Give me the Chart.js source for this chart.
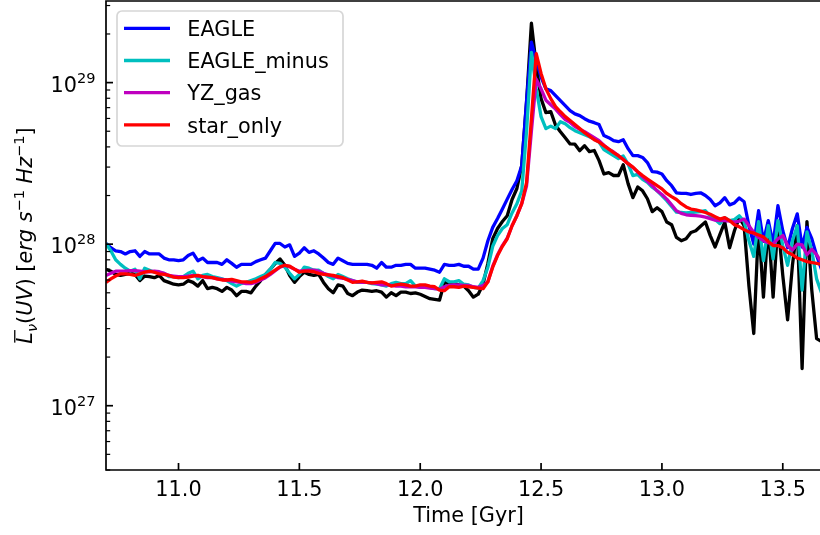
<!DOCTYPE html>
<html>
<head>
<meta charset="utf-8">
<script src="https://cdn.jsdelivr.net/npm/chart.js@4.4.0/dist/chart.umd.min.js"></script>
<style>
html, body { margin: 0; padding: 0; background: #fff; }
#c { display: block; }
</style>
</head>
<body>
<canvas id="c" width="820" height="535"></canvas>
<script>
// values in units of 1e27 erg s^-1 Hz^-1
const UNIT = 1e27;

const times = [
  10.70,10.72,10.74,10.76,10.78,10.80,10.82,10.84,10.86,10.88,
  10.90,10.92,10.94,10.96,10.98,11.00,11.02,11.04,11.06,11.08,
  11.10,11.12,11.14,11.16,11.18,11.20,11.22,11.24,11.26,11.28,
  11.30,11.32,11.34,11.36,11.38,11.40,11.42,11.44,11.46,11.48,
  11.50,11.52,11.54,11.56,11.58,11.60,11.62,11.64,11.66,11.68,
  11.70,11.72,11.74,11.76,11.78,11.80,11.82,11.84,11.86,11.88,
  11.90,11.92,11.94,11.96,11.98,12.00,12.02,12.04,12.06,12.08,
  12.10,12.12,12.14,12.16,12.18,12.20,12.22,12.24,12.26,12.28,
  12.30,12.32,12.34,12.36,12.38,12.40,12.42,12.44,12.46,12.48,
  12.50,12.52,12.54,12.56,12.58,12.60,12.62,12.64,12.66,12.68,
  12.70,12.72,12.74,12.76,12.78,12.80,12.82,12.84,12.86,12.88,
  12.90,12.92,12.94,12.96,12.98,13.00,13.02,13.04,13.06,13.08,
  13.10,13.12,13.14,13.16,13.18,13.20,13.22,13.24,13.26,13.28,
  13.30,13.32,13.34,13.36,13.38,13.40,13.42,13.44,13.46,13.48,
  13.50,13.52,13.54,13.56,13.58,13.60,13.62,13.64,13.66
];

// black curve (no legend entry)
const total = [
  7.0,6.8,6.5,6.4,6.5,6.6,6.5,5.95,6.35,6.3,
  6.2,6.4,5.95,5.8,5.65,5.6,5.65,5.95,5.8,5.5,
  5.95,5.3,5.4,5.3,5.1,5.4,5.2,4.8,5.1,5.1,
  5.0,5.5,5.95,6.5,7.0,7.6,8.1,7.4,6.4,5.8,
  6.3,6.7,6.5,6.4,6.5,5.8,5.3,5.0,5.6,5.5,
  4.95,4.8,5.05,5.2,5.15,5.1,5.15,5.05,4.7,5.0,
  4.8,5.05,5.05,4.95,5.0,4.9,4.75,4.6,4.55,4.5,
  5.8,5.7,5.7,5.6,5.5,5.15,4.7,4.9,5.65,7.6,
  10.8,12.5,13.8,15,18.9,22.1,30.6,76,233,127,
  79.6,65.2,66.2,54.5,49.7,45.6,41.7,41.6,37.9,40.7,
  37.4,38,32.9,27.2,27.7,26.6,26.6,31,23.7,19.4,
  22.6,21.4,19.1,15.9,16.8,15.9,13.7,13.2,11,10.5,
  10.8,11.8,12.1,12.9,13.7,11.3,9.6,11.5,13.7,9.5,
  12.1,14.6,13,5.5,2.8,13.3,4.7,13.6,4.7,13.6,
  6.4,3.4,7.4,13,1.7,13.8,5.2,2.6,2.5
];

const eagle = [
  10.1,9.5,9.1,9.0,8.7,9.0,9.1,8.4,9.0,8.7,
  8.7,8.7,8.2,8.0,8.0,7.9,8.0,8.5,8.8,7.9,
  8.2,7.7,7.7,7.7,7.5,8.0,7.6,7.2,7.5,7.5,
  7.5,7.8,8.0,8.2,9.1,10.1,10.1,9.6,9.9,8.4,
  8.8,9.5,8.9,9.1,8.7,8.2,7.7,7.5,8.2,7.9,
  7.6,7.5,7.5,7.5,7.5,7.4,7.1,7.7,7.2,7.2,
  7.4,7.4,7.5,7.5,7.1,7.1,7.1,7.0,6.9,6.7,
  7.5,7.4,7.4,7.5,7.3,7.3,7.0,7.0,8.2,10.5,
  12.7,14.4,16.5,19.0,21.8,24.7,30.6,77,178,137,
  108,91.5,89.2,83,77.3,72,67.1,64,62.5,59.8,
  57.7,56.5,55,47,45.6,43.7,43.1,44.3,39,35.3,
  35.3,34.4,32,28.1,27.9,27.2,24.7,23,20.8,20.6,
  20.6,20.3,20.6,20.8,20,18.9,17.3,18,19.4,17.5,
  18,19.3,18.3,13,10,16.1,10.4,14,10,17.3,
  12.1,9.5,12.5,15.4,9.6,12.7,10.8,8.5,7.0
];

const eagleMinus = [
  10.1,9.1,8.0,7.5,7.1,6.8,7.0,6.1,7.1,6.9,
  6.7,6.7,6.6,6.3,6.3,6.2,6.3,6.6,6.8,6.1,
  6.4,6.5,6.3,6.2,6.1,5.95,5.7,5.5,5.7,5.8,
  5.95,6.1,6.3,6.5,7.0,7.7,7.6,7.2,6.6,6.1,
  6.5,7.2,7.1,6.9,6.9,6.6,6.3,6.1,6.5,6.3,
  6.1,5.95,5.8,5.8,5.8,5.7,5.65,5.6,5.5,5.7,
  5.8,5.7,5.7,5.95,5.5,5.45,5.45,5.4,5.3,5.3,
  6.1,5.85,5.85,5.95,5.65,5.6,5.4,5.35,5.95,7.2,
  9.7,11.3,12.5,13.2,15.6,17.8,21.4,50,154,91.5,
  61.6,51.9,53.8,51.9,57.3,55.6,52.6,50.4,49,47.6,
  46.2,44.7,42.8,38.5,36.9,35.3,33.9,35.1,31.3,26.6,
  27,25.2,24.1,22.5,21.4,20,18.6,17.1,15.8,15.7,
  15.6,15.7,15.8,15.9,16.1,14.9,14.2,13.4,14.6,14,
  14.2,15,13.8,10.5,8.4,13.8,7.9,13,8.1,14,
  9.8,7.4,10.5,13,5.2,11.9,9.1,6.1,5.0
];

const yzGas = [
  6.4,6.6,6.8,6.8,6.8,6.85,6.86,6.8,6.75,6.75,
  6.8,6.75,6.6,6.4,6.35,6.3,6.3,6.35,6.4,6.35,
  6.3,6.2,6.2,6.1,6.05,6.0,5.9,5.85,5.8,5.7,
  5.7,5.8,6.0,6.2,6.5,6.86,7.2,7.4,7.25,7.0,
  6.8,6.85,6.9,6.9,6.8,6.6,6.45,6.35,6.2,6.15,
  6.05,5.95,5.85,5.8,5.8,5.75,5.7,5.6,5.6,5.55,
  5.5,5.5,5.45,5.45,5.45,5.4,5.4,5.35,5.3,5.25,
  5.45,5.55,5.6,5.6,5.55,5.55,5.45,5.4,5.55,5.85,
  7.3,8.6,9.8,10.9,13,15,17.8,23,50,105,
  91.5,77.8,73,68.5,63.3,59,56.7,53.4,51.5,49.7,
  47.6,45.6,43.7,41,38.8,37.2,35.3,33.4,31.5,29.8,
  27.9,26.1,24.5,23,21.4,20.3,19,17.5,16.1,15.5,
  15.2,15.1,15,14.9,14.7,14.4,14.1,14,14,13.9,
  13.7,13.9,14.3,13,11.8,11,10.5,10.2,10,10.8,
  11.3,9.8,9.2,10,9.9,8.6,9.3,8.6,7.7
];

const starOnly = [
  5.8,6.1,6.35,6.55,6.55,6.5,6.4,6.55,6.7,6.8,
  6.7,6.55,6.5,6.4,6.25,6.2,6.2,6.25,6.35,6.4,
  6.3,6.25,6.2,6.1,6.0,6.0,6.05,5.95,5.85,5.85,
  5.8,5.9,6.1,6.3,6.6,6.9,7.25,7.4,7.3,7.0,
  6.7,6.8,6.8,6.75,6.6,6.5,6.45,6.4,6.3,6.2,
  6.0,5.8,5.85,5.9,5.8,5.75,5.8,5.85,5.7,5.5,
  5.6,5.65,5.6,5.5,5.5,5.6,5.6,5.5,5.45,5.2,
  5.15,5.45,5.45,5.4,5.5,5.45,5.4,5.35,5.3,5.85,
  7.2,8.5,9.7,10.8,13,15,17.8,24,59.7,151,
  114,91.5,79.6,71,66,61.6,58.2,55,51.9,49,
  46.6,44.3,42.8,40.7,38.8,36.9,35.3,33.4,31.5,30,
  28.1,26.6,25.3,24.1,23,22,20.6,19.7,18.9,17.8,
  17,16.5,16.3,16,15.7,15.3,14.8,14.3,14.6,14,
  13.2,12.8,12.3,11.9,11.7,11.4,11.1,10.4,9.8,9.8,
  9.5,8.9,8.6,8.2,8.0,7.8,7.7,7.6,7.5
];

const xTicks = [11.0, 11.5, 12.0, 12.5, 13.0, 13.5];
const xTickLabels = ["11.0", "11.5", "12.0", "12.5", "13.0", "13.5"];
const yTickExps = [27, 28, 29];

const FONT = '"DejaVu Sans", "Liberation Sans", sans-serif';
const FS = 20.8;
const LW = 3.3;

function f(size, italic) {
  return (italic ? 'italic ' : '') + size + 'px ' + FONT;
}

function drawYLabel(ctx, cx, cy) {
  // [text, scale, baseline shift, italic, overline]
  const parts = [
    ['L', 1, 0, true, true],
    ['\u03BD', 0.7, 4.6, true],
    ['(', 1, 0, false], ['UV', 1, 0, true], [')', 1, 0, false],
    [' ', 1, 0, false], ['[', 1, 0, false], ['erg', 1, 0, true], [' ', 1, 0, false],
    ['s', 1, 0, true], ['\u22121', 0.7, -8.5, false], [' ', 1, 0, false],
    ['Hz', 1, 0, true], ['\u22121', 0.7, -8.5, false], [']', 1, 0, false]
  ];
  let w = 0;
  parts.forEach(p => { ctx.font = f(FS * p[1], p[3]); p.w = ctx.measureText(p[0]).width; w += p.w; });
  ctx.save();
  ctx.translate(cx, cy);
  ctx.rotate(-Math.PI / 2);
  ctx.fillStyle = '#000';
  ctx.textAlign = 'left';
  ctx.textBaseline = 'alphabetic';
  let x = -w / 2;
  parts.forEach(p => {
    ctx.font = f(FS * p[1], p[3]);
    ctx.fillText(p[0], x, p[2]);
    if (p[4]) {
      ctx.fillRect(x + 1, -FS * 0.86, p.w + 1, 1.3);
    }
    x += p.w;
  });
  ctx.restore();
}

const axesDeco = {
  id: 'axesDeco',
  afterDraw(chart) {
    const { ctx, chartArea: a, scales: { x, y } } = chart;
    ctx.save();
    ctx.strokeStyle = '#000';
    ctx.fillStyle = '#000';

    // spines
    ctx.lineWidth = 1.7;
    ctx.beginPath();
    ctx.moveTo(a.right + 2, a.top);
    ctx.lineTo(a.left, a.top);
    ctx.lineTo(a.left, a.bottom);
    ctx.lineTo(a.right + 2, a.bottom);
    ctx.stroke();

    // x ticks (inward) and labels
    ctx.font = f(FS, false);
    ctx.textAlign = 'center';
    ctx.textBaseline = 'alphabetic';
    xTicks.forEach((v, i) => {
      const px = x.getPixelForValue(v);
      ctx.beginPath();
      ctx.moveTo(px, a.bottom);
      ctx.lineTo(px, a.bottom - 7);
      ctx.stroke();
      ctx.fillText(xTickLabels[i], px, a.bottom + 26);
    });

    // y minor ticks
    ctx.lineWidth = 1.2;
    for (let e = 26; e <= 29; e++) {
      for (let m = 2; m <= 9; m++) {
        const v = m * Math.pow(10, e);
        if (v < y.min || v > y.max) continue;
        const py = y.getPixelForValue(v);
        ctx.beginPath();
        ctx.moveTo(a.left, py);
        ctx.lineTo(a.left + 4.2, py);
        ctx.stroke();
      }
    }
    // y major ticks and labels
    ctx.lineWidth = 1.7;
    yTickExps.forEach(e => {
      const py = y.getPixelForValue(Math.pow(10, e));
      ctx.beginPath();
      ctx.moveTo(a.left, py);
      ctx.lineTo(a.left + 7, py);
      ctx.stroke();
      const right = a.left - 10.6;
      ctx.textAlign = 'right';
      ctx.font = f(FS * 0.7, false);
      const sw = ctx.measureText(String(e)).width;
      ctx.fillText(String(e), right, py);
      ctx.font = f(FS, false);
      ctx.fillText('10', right - sw, py + 9);
    });

    // axis titles
    ctx.textAlign = 'center';
    ctx.font = f(FS, false);
    ctx.fillText('Time [Gyr]', x.getPixelForValue(12.2), a.bottom + 52);
    drawYLabel(ctx, 32, (a.top + a.bottom) / 2);

    // legend
    const bx = 117, by = 11, bw = 226, bh = 135, r = 5;
    ctx.beginPath();
    ctx.roundRect(bx, by, bw, bh, r);
    ctx.fillStyle = 'rgba(255,255,255,0.8)';
    ctx.fill();
    ctx.lineWidth = 1.7;
    ctx.strokeStyle = 'rgba(204,204,204,0.8)';
    ctx.stroke();
    const items = chart.data.datasets.filter(d => d.label);
    ctx.textAlign = 'left';
    ctx.font = f(FS, false);
    items.forEach((d, i) => {
      const ly = 28.3 + 32.2 * i;
      ctx.strokeStyle = d.borderColor;
      ctx.lineWidth = LW;
      ctx.beginPath();
      ctx.moveTo(124, ly);
      ctx.lineTo(170, ly);
      ctx.stroke();
      ctx.fillStyle = '#000';
      ctx.fillText(d.label, 187.3, ly + 7.6);
    });
    ctx.restore();
  }
};

const pts = arr => arr.map((v, i) => ({ x: times[i], y: v * UNIT }));

new Chart(document.getElementById('c'), {
  type: 'line',
  data: {
    datasets: [
      { label: '', data: pts(total), borderColor: '#000000', order: 5 },
      { label: 'EAGLE', data: pts(eagle), borderColor: '#0000ff', order: 4 },
      { label: 'EAGLE_minus', data: pts(eagleMinus), borderColor: '#00bfbf', order: 3 },
      { label: 'YZ_gas', data: pts(yzGas), borderColor: '#bf00bf', order: 2 },
      { label: 'star_only', data: pts(starOnly), borderColor: '#ff0000', order: 1 }
    ]
  },
  options: {
    responsive: false,
    animation: false,
    devicePixelRatio: 1,
    layout: { padding: { left: 106, top: 1, right: 0, bottom: 65 } },
    elements: {
      line: { borderWidth: LW, tension: 0, borderJoinStyle: 'round', borderCapStyle: 'butt', fill: false },
      point: { radius: 0, hoverRadius: 0 }
    },
    plugins: { legend: { display: false }, tooltip: { enabled: false } },
    scales: {
      x: { type: 'linear', min: 10.7, max: 13.654, display: false },
      y: { type: 'logarithmic', min: 4e26, max: 3.2e29, display: false }
    }
  },
  plugins: [axesDeco]
});
</script>
</body>
</html>
